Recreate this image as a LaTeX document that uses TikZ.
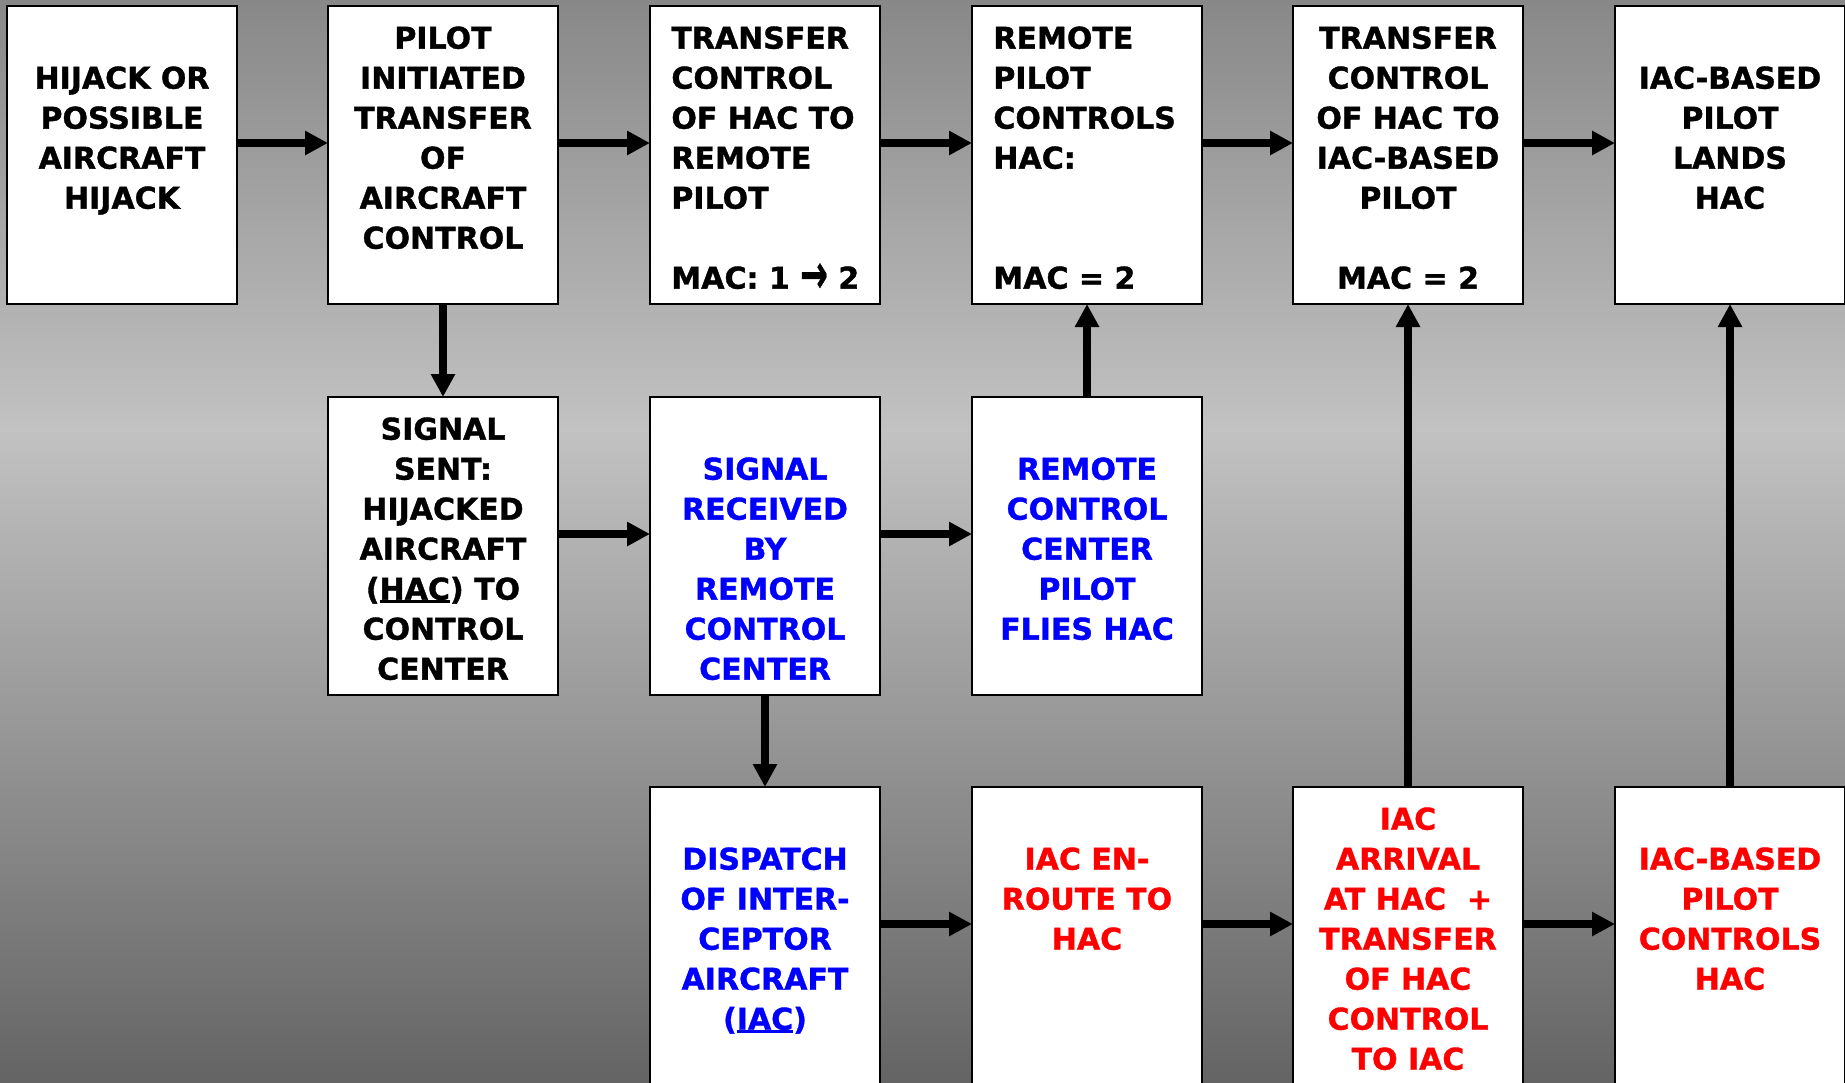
\documentclass[tikz,border=0pt]{standalone}
\usepackage{fontspec}
\setmainfont{DejaVu Sans}[BoldFeatures={FakeBold=1.2}]
\usetikzlibrary{arrows.meta}
\definecolor{bgtop}{RGB}{136,136,136}
\definecolor{bgmid}{RGB}{194,194,194}
\definecolor{bgbot}{RGB}{100,100,100}
\definecolor{tblue}{RGB}{0,0,255}
\definecolor{tred}{RGB}{255,0,0}
\newcommand{\myul}[1]{\setbox0\hbox{#1}\rlap{\rule[-1.9pt]{\wd0}{1.7pt}}\box0}
\newcommand{\bigarrow}{\raisebox{-0.13em}{\scalebox{1.1}[1.8]{→}}}
\begin{document}
\begin{tikzpicture}[x=0.5pt,y=-0.5pt,
  box/.style={draw=black,line width=1pt,fill=white,rectangle,inner sep=0pt,outer sep=0pt,
    minimum width=115pt,minimum height=149pt,anchor=north west},
  ctext/.style={font=\fontsize{15pt}{20pt}\selectfont\bfseries,align=center,inner sep=0pt,anchor=north},
  ltext/.style={font=\fontsize{15pt}{20pt}\selectfont\bfseries,align=left,inner sep=0pt,anchor=north west},
  arr/.style={line width=4pt,-{Triangle[length=11.5pt,width=11.5pt]}},
  hi/.style={yshift=6pt}
]
\useasboundingbox (0,0) rectangle (1845,1082);
\clip (0,0) rectangle (1845,1082);
\shade[top color=bgtop,bottom color=bgmid] (0,0) rectangle (1845,430);
\shade[top color=bgmid,bottom color=bgbot] (0,429) rectangle (1845,1082);

% row 1
\node[box] (b11) at (7,6) {};
\node[box] (b21) at (328,6) {};
\node[box] (b31) at (650,6) {};
\node[box] (b41) at (972,6) {};
\node[box] (b51) at (1293,6) {};
\node[box] (b61) at (1615,6) {};
% row 2
\node[box] (b22) at (328,397) {};
\node[box] (b32) at (650,397) {};
\node[box] (b42) at (972,397) {};
% row 3
\node[box] (b33) at (650,787) {};
\node[box] (b43) at (972,787) {};
\node[box] (b53) at (1293,787) {};
\node[box] (b63) at (1615,787) {};

% texts
\node[ctext] (t11) at (122,66) {HIJACK OR\\POSSIBLE\\AIRCRAFT\\HIJACK};
\node[ctext] (t21) at (443,26) {PILOT\\INITIATED\\TRANSFER\\OF\\AIRCRAFT\\CONTROL};
\node[ltext] (t31) at (671,26) {TRANSFER\\CONTROL\\OF HAC TO\\REMOTE\\PILOT\\[20pt]MAC: 1 \bigarrow{} 2};
\node[ltext] (t41) at (993,26) {REMOTE\\PILOT\\CONTROLS\\HAC:\\[40pt]MAC = 2};
\node[ctext] (t51) at (1408,26) {TRANSFER\\CONTROL\\OF HAC TO\\IAC-BASED\\PILOT\\[20pt]MAC = 2};
\node[ctext] (t61) at (1730,66) {IAC-BASED\\PILOT\\LANDS\\HAC};
\node[ctext] (t22) at (443,417) {SIGNAL\\SENT:\\HIJACKED\\AIRCRAFT\\(\myul{HAC}) TO\\CONTROL\\CENTER};
\node[ctext,text=tblue] (t32) at (765,457) {SIGNAL\\RECEIVED\\BY\\REMOTE\\CONTROL\\CENTER};
\node[ctext,text=tblue] (t42) at (1087,457) {REMOTE\\CONTROL\\CENTER\\PILOT\\FLIES HAC};
\node[ctext,text=tblue] (t33) at (765,847) {DISPATCH\\OF INTER-\\CEPTOR\\AIRCRAFT\\(\myul{IAC})};
\node[ctext,text=tred] (t43) at (1087,847) {IAC EN-\\ROUTE TO\\HAC};
\node[ctext,text=tred] (t53) at (1408,807) {IAC\\ARRIVAL\\AT HAC~~+\\TRANSFER\\OF HAC\\CONTROL\\TO IAC};
\node[ctext,text=tred] (t63) at (1730,847) {IAC-BASED\\PILOT\\CONTROLS\\HAC};

% arrows row 1
\draw[arr] ([hi]b11.east) -- ([hi]b21.west);
\draw[arr] ([hi]b21.east) -- ([hi]b31.west);
\draw[arr] ([hi]b31.east) -- ([hi]b41.west);
\draw[arr] ([hi]b41.east) -- ([hi]b51.west);
\draw[arr] ([hi]b51.east) -- ([hi]b61.west);
% arrows row 2
\draw[arr] ([hi]b22.east) -- ([hi]b32.west);
\draw[arr] ([hi]b32.east) -- ([hi]b42.west);
% arrows row 3
\draw[arr] ([hi]b33.east) -- ([hi]b43.west);
\draw[arr] ([hi]b43.east) -- ([hi]b53.west);
\draw[arr] ([hi]b53.east) -- ([hi]b63.west);
% vertical arrows
\draw[arr] (b21.south) -- (b22.north);
\draw[arr] (b32.south) -- (b33.north);
\draw[arr] (b42.north) -- (b41.south);
\draw[arr] (b53.north) -- (b51.south);
\draw[arr] (b63.north) -- (b61.south);
\end{tikzpicture}
\end{document}
